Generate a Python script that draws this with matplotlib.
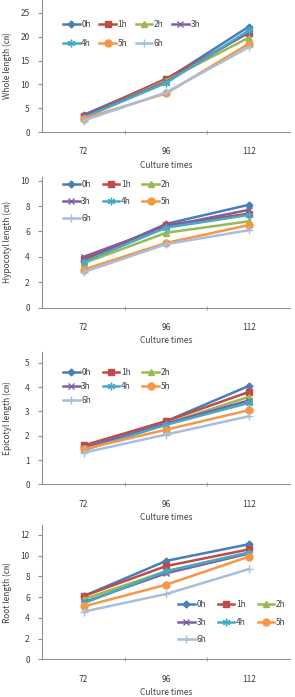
import numpy as np
import matplotlib
matplotlib.use("Agg")
import matplotlib.pyplot as plt

plt.rcParams['font.family'] = ['Noto Sans CJK KR', 'DejaVu Sans']
plt.rcParams['font.size'] = 6

times = ["72", "96", "112"]
series = ["0h", "1h", "2h", "3h", "4h", "5h", "6h"]

# values per series at 72, 96, 112
whole = [[3.6, 11.0, 22.1], [3.3, 11.2, 20.8], [3.0, 10.8, 19.8], [3.2, 10.5, 21.0],
         [3.0, 10.3, 21.3], [2.8, 8.1, 18.5], [2.4, 8.3, 17.8]]
hypocotyl = [[3.7, 6.6, 8.1], [3.8, 6.5, 7.4], [3.5, 5.9, 6.8], [4.0, 6.4, 7.7],
             [3.6, 6.3, 7.3], [3.0, 5.1, 6.5], [2.8, 5.0, 6.1]]
epicotyl = [[1.55, 2.6, 4.05], [1.6, 2.6, 3.8], [1.5, 2.5, 3.6], [1.5, 2.5, 3.45],
            [1.4, 2.45, 3.35], [1.45, 2.25, 3.05], [1.3, 2.05, 2.8]]
root = [[6.1, 9.5, 11.1], [6.1, 9.0, 10.6], [5.8, 8.5, 10.3], [5.5, 8.3, 10.2],
        [5.4, 8.5, 10.3], [5.1, 7.2, 9.9], [4.6, 6.3, 8.7]]

colors = ["#4A7EBB", "#BE4B48", "#98B954", "#7D60A0", "#46AAC5", "#F79646", "#A5BFDD"]
markers = ["D", "s", "^", "x", (6, 2, 0), "o", "+"]
msizes = [3.5, 4.5, 4.5, 5, 5.5, 5, 6]

W, H = 295, 697
fig = plt.figure(figsize=(W / 100, H / 100), dpi=100)

# data, ylabel, ymax, yticks, bottom px, top px, legend ncol, legend anchor, row spacing, col spacing
panels = [
    (whole, "Whole length (㎝)", 27.7, [0, 5, 10, 15, 20, 25], 132, 0, 4, (0.083, 0.85), 1.25, 1.0),
    (hypocotyl, "Hypocotyl length (㎝)", 10.29, [0, 2, 4, 6, 8, 10], 307.7, 177, 3, (0.083, 0.975), 0.95, 1.4),
    (epicotyl, "Epicotyl length (㎝)", 5.46, [0, 1, 2, 3, 4, 5], 484.3, 351.7, 3, (0.083, 0.875), 0.6, 1.4),
    (root, "Root length (㎝)", 12.96, [0, 2, 4, 6, 8, 10, 12], 659.3, 525, 3, (0.548, 0.44), 1.0, 1.4),
]

left_px, right_px = 42.3, 290
x = np.arange(len(times))
for data, ylab, ymax, yt, bot, top, ncol, anc, lsp, csp in panels:
    hpx = bot - top
    ax = fig.add_axes([left_px / W, (H - bot) / H, (right_px - left_px) / W, hpx / H])
    for i, s in enumerate(series):
        ax.plot(x, data[i], color=colors[i], marker=markers[i], ms=msizes[i], lw=1.8,
                mew=1.0, label=s)
    ax.set_xlim(-0.5, 2.5)
    ax.set_ylim(0, ymax)
    ax.set_yticks(yt)
    ax.set_xticks(x)
    ax.set_xticklabels(times)
    ax.set_xticks([0.5, 1.5], minor=True)
    ax.tick_params(axis='x', which='major', length=0, pad=11, colors="#404040")
    ax.tick_params(axis='x', which='minor', length=3, direction='inout', color="#909090")
    ax.tick_params(axis='y', length=3, direction='out', pad=6, color="#909090", labelcolor="#404040")
    for sp in ["top", "right"]:
        ax.spines[sp].set_visible(False)
    for sp in ["left", "bottom"]:
        ax.spines[sp].set_color("#909090")
        ax.spines[sp].set_linewidth(0.8)
    ax.set_ylabel(ylab, color="#404040", va="center")
    ax.yaxis.set_label_coords((7 - left_px) / (right_px - left_px), 0.5)
    ax.set_xlabel("Culture times", color="#404040", va="center")
    ax.xaxis.set_label_coords(0.5, -33 / hpx)

    # legend filled row by row like the original
    h, l = ax.get_legend_handles_labels()
    if ncol == 4:
        order = [0, 4, 1, 5, 2, 6, 3]
    else:
        order = [0, 3, 6, 1, 4, 2, 5]
    ax.legend([h[k] for k in order], [l[k] for k in order], ncol=ncol,
              loc="upper left", bbox_to_anchor=anc, frameon=False,
              handlelength=2.0, handletextpad=0.2, columnspacing=csp,
              labelspacing=lsp, borderpad=0, borderaxespad=0, fontsize=6,
              labelcolor="#404040")

fig.savefig("out.png", dpi=100)
